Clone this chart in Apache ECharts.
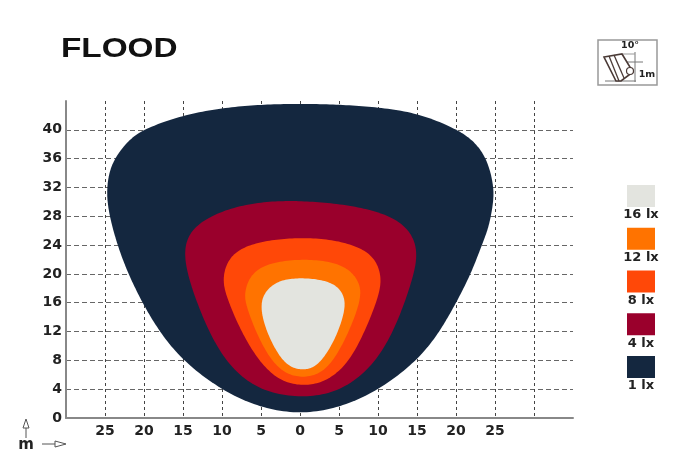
<!DOCTYPE html>
<html><head><meta charset="utf-8">
<style>html,body{margin:0;padding:0;background:#fff}#c{width:689px;height:469px}</style>
<script src="https://cdn.jsdelivr.net/npm/echarts@6/dist/echarts.min.js"></script>
</head><body><div id="c"></div>
<script>
const levels = ['1 lx','4 lx','8 lx','12 lx','16 lx'];
const colors = ['#14273f','#9a002c','#ff4808','#ff7300','#e3e4df'];
const yTicks = [0,4,8,12,16,20,24,28,32,36,40];
const xTicks = [-25,-20,-15,-10,-5,0,5,10,15,20,25];
const lx1 = [[0,0.6],[-5.1,1.5],[-10,3.9],[-15,8],[-18,12],[-20.2,16],[-22,20],[-23.4,24],[-24.4,28],[-24.8,31.2],[-24.4,34.4],[-23.5,36.4],[-21.9,38.6],[-19.9,40.1],[-15,42],[-10,43],[-5,43.5],[0,43.6],[5.1,43.5],[10,43.1],[15,42.3],[20,40.1],[22.3,38.4],[24,35.8],[24.8,32.1],[24.8,30.2],[24.2,26.5],[23.3,24],[21.9,20],[20,16],[17.9,12],[15,8],[10,3.9],[5.1,1.5]];
const lx4 = [[0.2,2.9],[-4.7,3.7],[-8.8,6.9],[-11.6,11.8],[-13.7,17.5],[-14.8,21.9],[-14.5,25.1],[-12.4,27.5],[-8.1,29.4],[-3.4,30.1],[0.4,30.1],[5.1,29.7],[9.8,28.7],[13,27.1],[14.6,24.9],[15,22.3],[14.3,18.9],[12,12],[9,6.9],[4.7,3.6]];
const lx8 = [[0.4,4.5],[-2.6,5.2],[-5.3,8],[-7.7,12.4],[-9.3,16.6],[-9.9,19],[-9.3,21.8],[-7.5,23.6],[-4.3,24.6],[-0.4,25],[3.8,24.8],[7.3,23.8],[9.5,22.3],[10.5,19.3],[9.8,16.1],[7.7,10.6],[5.6,7],[3,5]];
const lx12 = [[0.4,5.6],[-2.1,6.3],[-4.1,8.7],[-5.8,12.4],[-6.9,15.7],[-7.1,17.3],[-6.3,19.9],[-4.1,21.4],[-0.4,22],[3.4,21.8],[6.1,20.8],[7.6,18.8],[7.8,16.6],[6.4,12.4],[4.7,8.7],[2.8,6.3]];
const lx16 = [[0.4,6.7],[-1.4,7.1],[-3,9.2],[-4.4,12.4],[-5,15.2],[-4.7,17.1],[-3.2,18.8],[-0.9,19.4],[2.1,19.3],[4.6,18.5],[5.7,16.8],[5.7,14.7],[4.5,11],[3,8.3],[1.7,7]];
const contours = [lx1,lx4,lx8,lx12,lx16];

// closed centripetal Catmull-Rom through the read points, then a light moving average
function closedCurve(P){
  const n=P.length,out=[],N=12,W=6;
  const d=(a,b)=>Math.sqrt(Math.hypot(a[0]-b[0],a[1]-b[1]))||1e-6;
  for(let i=0;i<n;i++){
    const p0=P[(i-1+n)%n],p1=P[i],p2=P[(i+1)%n],p3=P[(i+2)%n];
    const t1=d(p0,p1),t2=t1+d(p1,p2),t3=t2+d(p2,p3);
    for(let s=0;s<N;s++){
      const t=t1+(t2-t1)*s/N;
      const L=(a,b,ta,tb)=>[0,1].map(j=>a[j]*(tb-t)/(tb-ta)+b[j]*(t-ta)/(tb-ta));
      const A1=L(p0,p1,0,t1),A2=L(p1,p2,t1,t2),A3=L(p2,p3,t2,t3);
      const B1=L(A1,A2,0,t2),B2=L(A2,A3,t1,t3);
      out.push(L(B1,B2,t1,t2));
    }
  }
  let cur=out;
  for(let pass=0;pass<2;pass++){
    cur=cur.map((_,i)=>{
      let x=0,y=0;
      for(let w=-W;w<=W;w++){const q=cur[(i+w+cur.length)%cur.length];x+=q[0];y+=q[1];}
      return [x/(2*W+1),y/(2*W+1)];
    });
  }
  return cur;
}

const tickFont = {fontFamily:'DejaVu Sans',fontWeight:'bold',fontSize:14,color:'#222'};
const chart = echarts.init(document.getElementById('c'),null,{renderer:'canvas'});

const legendGfx = [];
[4,3,2,1,0].forEach((k,i)=>{
  const top = 185 + i*42.75;
  legendGfx.push({type:'rect',shape:{x:627,y:top,width:28,height:22},style:{fill:colors[k]}});
  legendGfx.push({type:'text',x:641,y:top+30,style:{text:levels[k],align:'center',verticalAlign:'middle',font:'bold 13px "DejaVu Sans"',fill:'#222'}});
});
const iconStroke = '#4a3a36';
const iconGfx = [
 {type:'rect',shape:{x:598,y:40,width:59,height:45},style:{fill:'#fff',stroke:'#999',lineWidth:1.5}},
 {type:'line',shape:{x1:605,y1:81,x2:636,y2:81},style:{stroke:'#777',lineWidth:1}},
 {type:'line',shape:{x1:635,y1:52,x2:635,y2:82},style:{stroke:'#777',lineWidth:1}},
 {type:'line',shape:{x1:623,y1:62,x2:643,y2:62},style:{stroke:'#777',lineWidth:1}},
 {type:'line',shape:{x1:623,y1:54,x2:635,y2:54},style:{stroke:'#999',lineWidth:1}},
 {type:'polygon',shape:{points:[[604,57],[622,54],[633,72],[621,81],[616,81]]},style:{fill:'#fff',stroke:iconStroke,lineWidth:1.6}},
 {type:'line',shape:{x1:609,y1:56,x2:619,y2:81},style:{stroke:iconStroke,lineWidth:1.3}},
 {type:'line',shape:{x1:614,y1:55,x2:624,y2:78},style:{stroke:iconStroke,lineWidth:1.3}},
 {type:'circle',shape:{cx:630,cy:71,r:3.5},style:{fill:'#fff',stroke:iconStroke,lineWidth:1.2}},
 {type:'text',x:630,y:46,style:{text:'10°',align:'center',verticalAlign:'middle',font:'bold 9.5px "DejaVu Sans"',fill:'#222'}},
 {type:'text',x:647,y:75,style:{text:'1m',align:'center',verticalAlign:'middle',font:'bold 9.5px "DejaVu Sans"',fill:'#222'}}
];
const arrowStroke = '#555';
const arrowGfx = [
 {type:'line',shape:{x1:26,y1:428,x2:26,y2:438},style:{stroke:arrowStroke,lineWidth:1}},
 {type:'polygon',shape:{points:[[26,419],[29,428],[23,428]]},style:{fill:'#fff',stroke:arrowStroke,lineWidth:1}},
 {type:'line',shape:{x1:42,y1:444,x2:55,y2:444},style:{stroke:arrowStroke,lineWidth:1}},
 {type:'polygon',shape:{points:[[66,444],[55,441],[55,447]]},style:{fill:'#fff',stroke:arrowStroke,lineWidth:1}},
 {type:'text',x:26,y:445,style:{text:'m',align:'center',verticalAlign:'middle',font:'bold 15px "DejaVu Sans"',fill:'#222'}}
];

chart.setOption({
  animation:false,
  backgroundColor:'#fff',
  grid:{left:66,right:116,top:101,bottom:51,containLabel:false},
  xAxis:{type:'value',min:-30,max:35,interval:5,
    axisLine:{show:true,onZero:false,lineStyle:{color:'#888',width:2}},axisTick:{show:false},
    axisLabel:{...tickFont,margin:6,formatter:v=>xTicks.includes(v)?String(Math.abs(v)):''},
    splitLine:{show:true,showMinLine:false,showMaxLine:false,lineStyle:{color:'#444',type:[3,3],width:1}}},
  yAxis:{type:'value',min:0,max:44,interval:4,
    axisLine:{show:true,onZero:false,lineStyle:{color:'#888',width:2}},axisTick:{show:false},
    axisLabel:{...tickFont,margin:4,formatter:v=>yTicks.includes(v)?String(v):''},
    splitLine:{show:true,showMaxLine:false,lineStyle:{color:'#666',type:[5,3],width:1}}},
  series:contours.map((pts,k)=>({
    type:'custom',name:levels[k],coordinateSystem:'cartesian2d',data:pts,z:2+k,clip:false,
    encode:{x:0,y:1},
    renderItem:(params,api)=>{
      if(params.dataIndex!==0) return null;
      return {type:'polygon',shape:{points:closedCurve(pts.map(p=>api.coord(p)))},style:{fill:colors[k]}};
    }
  })),
  graphic:[
    {type:'text',x:61,y:49,scaleX:1.19,style:{text:'FLOOD',align:'left',verticalAlign:'middle',font:'bold 28px "Liberation Sans"',fill:'#111'}},
    ...iconGfx,...legendGfx,...arrowGfx
  ]
});
</script></body></html>
